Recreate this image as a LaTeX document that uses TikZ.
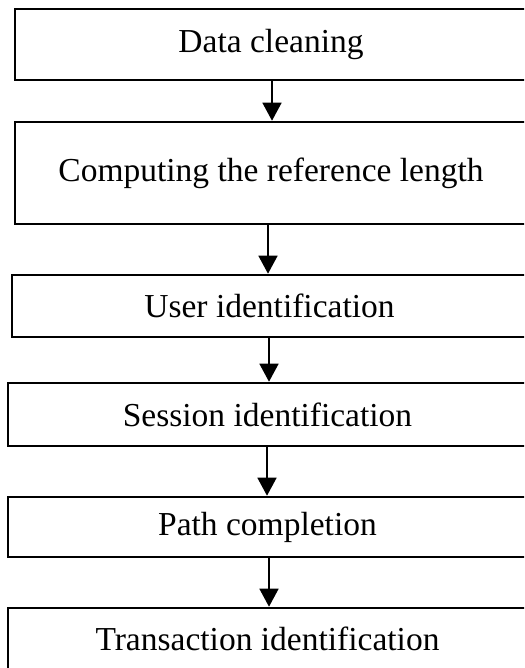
\documentclass[tikz,border=0pt]{standalone}
\usepackage{fontspec}
\setmainfont{Liberation Serif}
\usetikzlibrary{arrows.meta}
\begin{document}
\begin{tikzpicture}[x=1pt,y=-1pt,
  stage/.style={draw=black, line width=2.6pt, rectangle, inner sep=0pt,
    font=\fontsize{33.5}{40}\selectfont},
  flow/.style={line width=1.6pt, -{Triangle[length=18pt,width=19pt]}}]
\useasboundingbox (0,0) rectangle (524,668);
\begin{scope}
\clip (0,0) rectangle (524,668);
\node[stage, minimum width=512pt, minimum height=71pt]  (b1) at (271,44.5)   {Data cleaning};
\node[stage, minimum width=512pt, minimum height=102pt] (b2) at (271,173)    {Computing the reference length};
\node[stage, minimum width=515pt, minimum height=62pt]  (b3) at (269.5,306)  {User identification};
\node[stage, minimum width=519pt, minimum height=63pt]  (b4) at (267.5,414.5){Session identification};
\node[stage, minimum width=519pt, minimum height=60pt]  (b5) at (267.5,527)  {\raisebox{-2pt}{Path completion}};
\node[stage, minimum width=519pt, minimum height=62pt]  (b6) at (267.5,639)  {Transaction identification};
\end{scope}
\draw[flow] ([xshift=1pt]b1.south)    -- ([xshift=1pt]b2.north);
\draw[flow] ([xshift=-3pt]b2.south)   -- ([xshift=-1.5pt]b3.north);
\draw[flow] ([xshift=-0.5pt]b3.south) -- ([xshift=1.5pt]b4.north);
\draw[flow] ([xshift=-0.5pt]b4.south) -- ([xshift=-0.5pt]b5.north);
\draw[flow] ([xshift=1.5pt]b5.south)  -- ([xshift=1.5pt]b6.north);
\end{tikzpicture}
\end{document}
